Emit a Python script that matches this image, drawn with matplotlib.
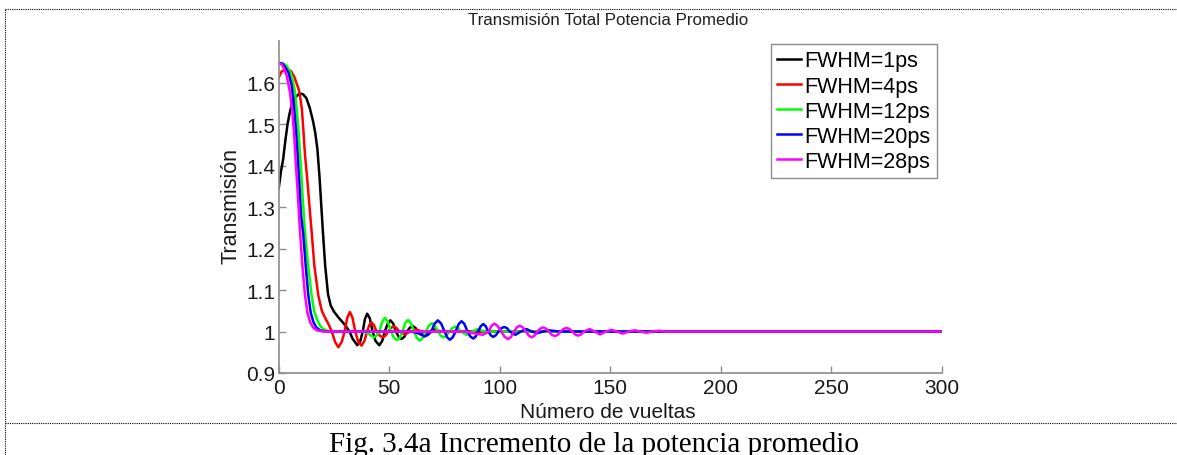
import matplotlib
matplotlib.use("Agg")
import matplotlib.pyplot as plt
from matplotlib.lines import Line2D

plt.rcParams['font.family'] = ['Liberation Sans', 'DejaVu Sans']

W, H = 1177, 456

# ---- data (vueltas, transmision) ----
labels = ['FWHM=1ps', 'FWHM=4ps', 'FWHM=12ps', 'FWHM=20ps', 'FWHM=28ps']
colors = ['#000000', '#ff0000', '#00ff00', '#0000ff', '#ff00ff']

x_1ps = [0, 1, 2, 3, 4, 5, 6, 7.5, 9.5, 11, 12.5, 14, 15.5, 16.5, 17.5, 18.5,
         19.3, 20, 21, 22.3, 23.5, 25, 27, 29, 30.5, 32, 33.5, 35.5, 36.8, 38,
         39, 40, 41.2, 42.5, 43.8, 45.5, 46.8, 48, 49.3, 50.5, 51.8, 53, 54.3,
         55.5, 56.8, 58, 59.3, 60.5, 61.8, 63, 64.3, 65.5, 66.8, 68, 70.5, 73, 300]
y_1ps = [1.345, 1.385, 1.415, 1.46, 1.50, 1.528, 1.548, 1.565, 1.574, 1.572,
         1.563, 1.54, 1.508, 1.48, 1.44, 1.37, 1.30, 1.24, 1.16, 1.09, 1.063,
         1.048, 1.034, 1.022, 1.012, 1.0, 0.982, 0.967, 0.975, 1.0, 1.03, 1.043,
         1.032, 1.0, 0.977, 0.967, 0.977, 1.0, 1.019, 1.027, 1.019, 1.0, 0.987,
         0.982, 0.987, 1.0, 1.009, 1.013, 1.009, 1.0, 0.994, 0.992, 0.994, 1.0,
         1.005, 1.0, 1.0]

x_4ps = [0, 1.3, 3.5, 5.5, 7, 8, 9.2, 10, 10.5, 11.1, 11.9, 12.9, 13.8, 14.9,
         16.1, 17.9, 19.5, 21, 22.5, 24, 25.5, 27, 28.5, 29.8, 31, 32.2, 33.4,
         34.6, 36, 37.5, 38.8, 40, 41, 42, 43, 44.3, 45.7, 47, 48.3, 49.5, 50.8,
         52, 53.2, 54.5, 57, 59.5, 62, 65, 300]
y_4ps = [1.612, 1.627, 1.633, 1.628, 1.615, 1.600, 1.581, 1.555, 1.535, 1.49,
         1.425, 1.368, 1.31, 1.24, 1.16, 1.087, 1.05, 1.033, 1.018, 1.0, 0.975,
         0.962, 0.975, 1.0, 1.033, 1.047, 1.033, 1.0, 0.975, 0.966, 0.978, 1.0,
         1.016, 1.022, 1.016, 1.0, 0.99, 0.986, 0.99, 1.0, 1.009, 1.012, 1.009,
         1.0, 0.993, 1.0, 1.005, 1.0, 1.0]

x_12ps = [0, 1.3, 3.5, 5, 6, 7.4, 8.4, 9.3, 10.1, 10.8, 11.6, 12.4, 13.4, 14.9,
          16, 17.2, 18.7, 20.2, 22, 24, 38, 40.5, 43, 44.3, 45.5, 46.8, 48,
          49.4, 50.8, 52.1, 53.5, 54.8, 56, 57.2, 58.5, 59.8, 61.2, 62.5, 63.8,
          65.2, 66.5, 67.9, 69.3, 70.6, 72, 73.3, 74.6, 75.9, 77.2, 78.5, 79.8,
          81.1, 82.4, 85, 87.6, 90, 93, 300]
y_12ps = [1.645, 1.648, 1.641, 1.628, 1.615, 1.577, 1.52, 1.456, 1.392, 1.328,
          1.26, 1.21, 1.155, 1.087, 1.05, 1.031, 1.014, 1.006, 1.002, 1.0, 1.0,
          0.995, 0.986, 0.99, 1.0, 1.023, 1.033, 1.023, 1.0, 0.985, 0.979, 0.985,
          1.0, 1.02, 1.028, 1.02, 1.0, 0.985, 0.978, 0.985, 1.0, 1.014, 1.02,
          1.014, 1.0, 0.99, 0.986, 0.99, 1.0, 1.008, 1.012, 1.008, 1.0, 0.992,
          1.0, 1.006, 1.0, 1.0]

x_20ps = [0, 2, 4.4, 5.9, 6.9, 7.8, 8.6, 9.3, 10.1, 11.1, 12.2, 13.4, 14.5,
          15.7, 17, 18.7, 21, 60, 63, 66, 67.5, 69, 70.5, 72, 73.5, 75, 76.2,
          77.4, 78.7, 80, 81.4, 82.7, 84, 85.4, 86.7, 88, 89.1, 90.2, 91.4, 92.5,
          93.6, 94.8, 95.9, 97, 98.2, 99.4, 100.7, 102, 103.3, 104.5, 107, 109.5,
          112, 114.5, 117, 119.5, 122, 127, 300]
y_20ps = [1.648, 1.645, 1.625, 1.593, 1.545, 1.488, 1.424, 1.36, 1.28, 1.235,
          1.159, 1.087, 1.045, 1.023, 1.01, 1.003, 1.0, 1.0, 0.996, 0.988, 0.992,
          1.0, 1.019, 1.027, 1.019, 1.0, 0.986, 0.98, 0.986, 1.0, 1.018, 1.025,
          1.018, 1.0, 0.988, 0.983, 0.988, 1.0, 1.013, 1.018, 1.013, 1.0, 0.991,
          0.987, 0.991, 1.0, 1.008, 1.011, 1.008, 1.0, 0.992, 1.0, 1.006, 1.0,
          0.996, 1.0, 1.003, 1.0, 1.0]

x_28ps = [0, 1.3, 2.5, 3.6, 5.1, 6.2, 7.1, 7.8, 8.6, 9.3, 9.7, 10.7, 11.9, 13,
          14.2, 15.5, 17.2, 20, 84, 88, 92.3, 95, 96.3, 97.6, 98.9, 100.7, 102.2,
          103.8, 105.1, 106.4, 107.7, 109.1, 110.4, 111.8, 113.1, 114.4, 115.7,
          117, 118.3, 119.6, 120.9, 122.2, 123.6, 124.9, 126.2, 127.5, 128.8,
          130.2, 131.5, 132.8, 134.1, 135.4, 136.7, 138, 140.7, 143, 145.3, 148,
          150.5, 153, 155.6, 158.3, 161, 163.7, 166.4, 169, 172, 175, 300]
y_28ps = [1.646, 1.645, 1.633, 1.617, 1.577, 1.529, 1.464, 1.40, 1.336, 1.27,
          1.235, 1.159, 1.087, 1.045, 1.023, 1.01, 1.003, 1.0, 1.0, 0.996, 0.992,
          1.0, 1.014, 1.019, 1.014, 1.0, 0.987, 0.982, 0.987, 1.0, 1.01, 1.014,
          1.01, 1.0, 0.99, 0.986, 0.99, 1.0, 1.007, 1.01, 1.007, 1.0, 0.992,
          0.989, 0.992, 1.0, 1.006, 1.009, 1.006, 1.0, 0.993, 0.99, 0.993, 1.0,
          1.006, 1.0, 0.993, 1.0, 1.004, 1.0, 0.995, 1.0, 1.003, 1.0, 0.997, 1.0,
          1.002, 1.0, 1.0]

series_x = [x_1ps, x_4ps, x_12ps, x_20ps, x_28ps]
series_y = [y_1ps, y_4ps, y_12ps, y_20ps, y_28ps]

x_ticks = [0, 50, 100, 150, 200, 250, 300]
y_ticks = [0.9, 1.0, 1.1, 1.2, 1.3, 1.4, 1.5, 1.6]
y_tick_labels = ['0.9', '1', '1.1', '1.2', '1.3', '1.4', '1.5', '1.6']

# ---- figure ----
fig = plt.figure(figsize=(W / 100, H / 100), dpi=100)
ax = fig.add_axes([278.7 / W, 1 - 374 / H, 663.3 / W, 331.8 / H])

for xs, ys, c, lab in zip(series_x, series_y, colors, labels):
    ax.plot(xs, ys, color=c, lw=1.8, label=lab, solid_joinstyle='round')

ax.set_xlim(0, 300)
ax.set_ylim(0.9, 1.7)
ax.set_xticks(x_ticks)
ax.set_yticks(y_ticks)
ax.set_yticklabels(y_tick_labels)

gray = '#8c8c8c'
for s in ['top', 'right']:
    ax.spines[s].set_visible(False)
for s in ['left', 'bottom']:
    ax.spines[s].set_color(gray)
    ax.spines[s].set_linewidth(1.2)
ax.tick_params(direction='in', length=4.8, width=1.0, color=gray,
               labelsize=15, labelcolor='#1a1a1a')
ax.tick_params(axis='x', pad=3.5)
ax.tick_params(axis='y', pad=2.5)

leg = ax.legend(loc='upper right', bbox_to_anchor=(0.992, 0.9916),
                borderaxespad=0, fontsize=15.5, handlelength=1.1,
                handletextpad=0.15, labelspacing=0.19, borderpad=0.3,
                fancybox=False, framealpha=1)
leg.get_frame().set_edgecolor(gray)
leg.get_frame().set_linewidth(1.0)

fig.text(608 / W, 1 - 25 / H, 'Transmisión Total Potencia Promedio',
         ha='center', va='baseline', fontsize=12.2, color='#202020')
fig.text(608 / W, 1 - 418 / H, 'Número de vueltas',
         ha='center', va='baseline', fontsize=15, color='#1a1a1a')
fig.text(231 / W, 1 - 206 / H, 'Transmisión', rotation=90,
         ha='center', va='center', fontsize=15.5, color='#1a1a1a')

# dotted frame of the table cell and the caption
dot = dict(color='black', lw=0.8, linestyle=(0, (1, 1)), transform=fig.transFigure)
fig.add_artist(Line2D([5 / W, 1], [1 - 10 / H, 1 - 10 / H], **dot))
fig.add_artist(Line2D([5 / W, 1], [1 - 424 / H, 1 - 424 / H], **dot))
fig.add_artist(Line2D([5 / W, 5 / W], [0, 1 - 10 / H], **dot))

fig.text(594 / W, 1 - 452 / H, 'Fig. 3.4a Incremento de la potencia promedio',
         ha='center', va='baseline', fontsize=21,
         family=['Liberation Serif', 'DejaVu Serif'])

fig.savefig('out.png', dpi=100)
